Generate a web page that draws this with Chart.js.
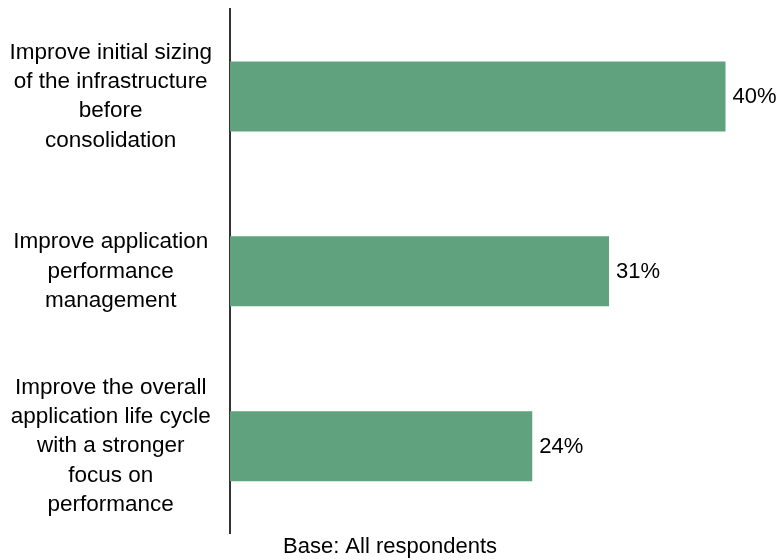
<!DOCTYPE html>
<html>
<head>
<meta charset="utf-8">
<script src="https://cdn.jsdelivr.net/npm/chart.js@4/dist/chart.umd.min.js"></script>
<style>
    html, body { margin: 0; padding: 0; background: #fff; }
    #wrap { width: 780px; height: 560px; }
</style>
</head>
<body>
<div id="wrap"><canvas id="improveChart"></canvas></div>
<script>
// categories (one array of lines per bar)
const categories = [
    ['Improve initial sizing', 'of the infrastructure', 'before', 'consolidation'],
    ['Improve application', 'performance', 'management'],
    ['Improve the overall', 'application life cycle', 'with a stronger', 'focus on', 'performance']
];
// values (percent)
const values = [40, 30.6, 24.4];
const footerText = 'Base: All respondents';

const barColor = '#5fa27d';
const fontFamily = '"Liberation Sans", Arial, sans-serif';

// draws "NN%" right of each bar end
const valueLabels = {
    id: 'valueLabels',
    afterDatasetsDraw(chart) {
        let ctx = chart.ctx;
        let meta = chart.getDatasetMeta(0);
        ctx.save();
        ctx.font = '22px ' + fontFamily;
        ctx.fillStyle = '#000';
        ctx.textAlign = 'left';
        ctx.textBaseline = 'middle';
        meta.data.forEach((bar, i) => {
            ctx.fillText(Math.round(values[i]) + '%', bar.x + 7, bar.y + 1);
        });
        ctx.restore();
    }
};

let ctx = document.getElementById('improveChart').getContext('2d');
new Chart(ctx, {
    type: 'bar',
    data: {
        labels: categories,
        datasets: [{
            data: values,
            backgroundColor: barColor,
            borderWidth: 0,
            barPercentage: 0.4,
            categoryPercentage: 1
        }]
    },
    options: {
        indexAxis: 'y',
        responsive: true,
        maintainAspectRatio: false,
        animation: false,
        layout: {
            padding: { top: 9, right: 0, bottom: 0, left: 0 }
        },
        scales: {
            x: {
                display: false,
                min: 0,
                max: 44.4
            },
            y: {
                grid: { display: false, drawTicks: false },
                border: { display: true, color: '#333', width: 2 },
                ticks: {
                    crossAlign: 'center',
                    padding: 18,
                    color: '#000',
                    font: { family: fontFamily, size: 22.5, lineHeight: 1.3 }
                },
                afterFit(scale) {
                    scale.width = 230;
                    // labels may spill past the axis ends, like the original
                    scale.paddingTop = 0;
                    scale.paddingBottom = 0;
                }
            }
        },
        plugins: {
            legend: { display: false },
            tooltip: { enabled: false },
            title: {
                display: true,
                position: 'bottom',
                text: footerText,
                color: '#000',
                font: { family: fontFamily, size: 22, weight: 'normal', lineHeight: 1.2 },
                padding: { top: 0, bottom: 0 }
            }
        }
    },
    plugins: [valueLabels]
});
</script>
</body>
</html>
